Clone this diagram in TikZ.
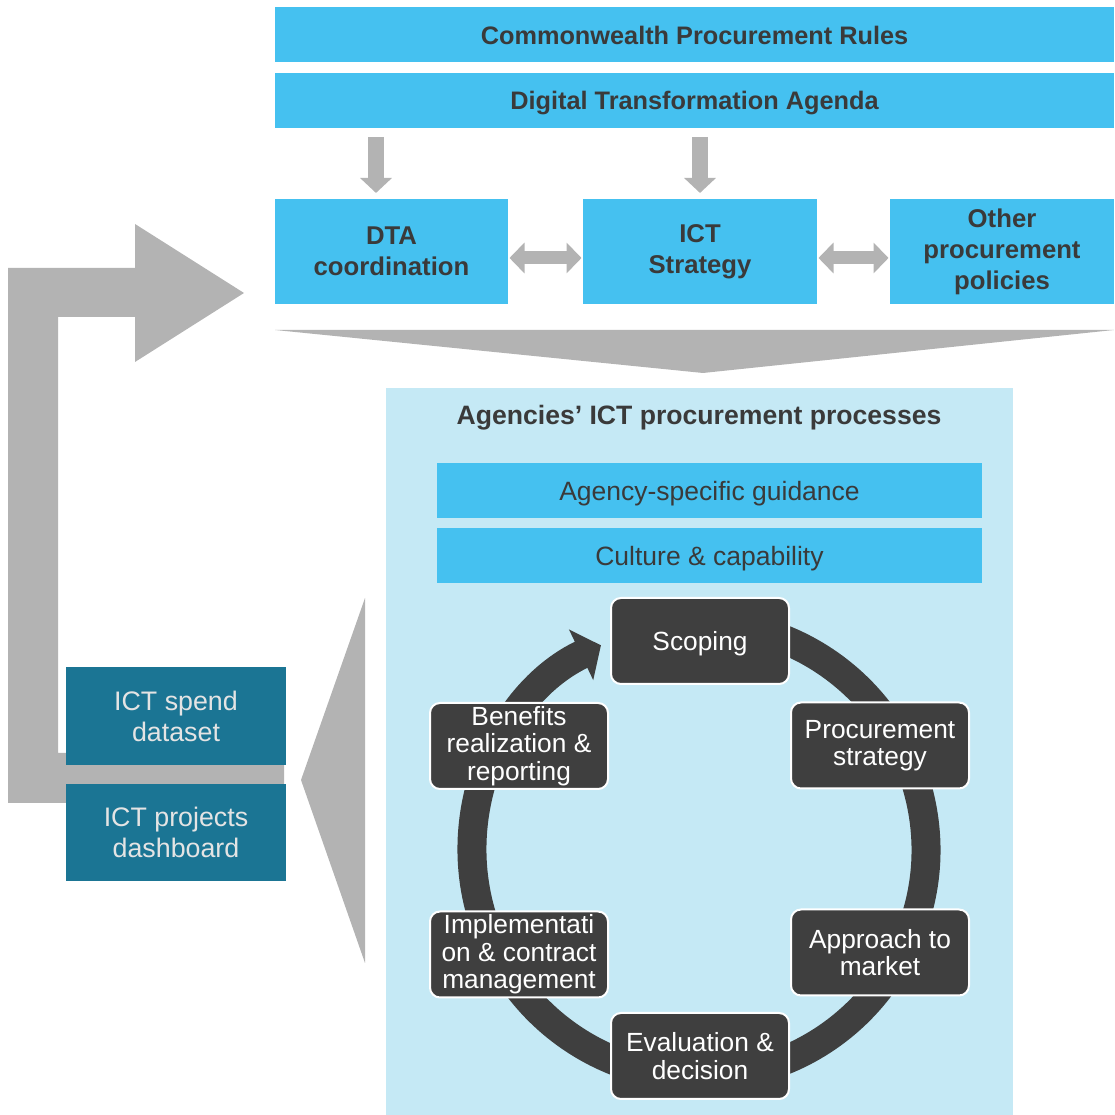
\documentclass[tikz,border=0pt]{standalone}
\usepackage{fontspec}
\setmainfont{Liberation Sans}
\usetikzlibrary{arrows.meta}
\definecolor{barblue}{HTML}{45C1F0}
\definecolor{panelblue}{HTML}{C5E9F5}
\definecolor{arrowgray}{HTML}{B3B3B3}
\definecolor{stagegray}{HTML}{3F3F3F}
\definecolor{datateal}{HTML}{1B7594}
\definecolor{textgray}{HTML}{3A3A3A}
\definecolor{textlight}{HTML}{E4E4E4}

\begin{document}
\begin{tikzpicture}[x=1pt,y=1pt,inner sep=0pt,outer sep=0pt,
        bar/.style={fill=barblue,minimum width=839pt,minimum height=55pt,text depth=0pt,text=textgray,font=\fontsize{25.3}{30}\selectfont\bfseries},
        policy/.style={fill=barblue,minimum height=105pt,text=textgray,align=center,font=\fontsize{25.7}{31}\selectfont\bfseries},
        guide/.style={fill=barblue,minimum width=545pt,minimum height=55pt,text depth=0pt,text=textgray,font=\fontsize{26.5}{30}\selectfont},
        stage/.style={draw=white,line width=2pt,fill=stagegray,rounded corners=10pt,minimum width=178pt,minimum height=86pt,text=white,align=center,font=\fontsize{26.3}{27.5}\selectfont},
        data/.style={fill=datateal,minimum width=220pt,minimum height=97.5pt,text=textlight,align=center,font=\fontsize{26.8}{31}\selectfont},
        fat/.style={draw=arrowgray,line width=16pt,-{Triangle[width=31pt,length=15pt]},shorten <=9pt,shorten >=6pt},
        link/.style={draw=arrowgray,line width=13pt,{Triangle[width=30pt,length=15pt]}-{Triangle[width=30pt,length=15pt]},shorten <=1.5pt,shorten >=1.5pt}]

        \useasboundingbox (0,0) rectangle (1114,1115);

        \node at (694.5,1080) [bar] (cpr) {Commonwealth Procurement Rules};
        \node at (694.5,1014.5) [bar] (dta) {Digital Transformation Agenda};

        \node at (391.5,863.5) [policy,minimum width=233pt] (coord) {DTA\\coordination};
        \node at (700,863.5) [policy,minimum width=234pt] (ict) {ICT\\Strategy};
        \node at (1002,863.5) [policy,minimum width=224pt] (other) {Other\\procurement\\policies};

        \draw[fat] ([xshift=-15.5pt]coord.north |- dta.south) -- ([xshift=-15.5pt]coord.north);
        \draw[fat] (ict.north |- dta.south) -- (ict.north);
        \draw[link] ([yshift=-6.5pt]coord.east) -- ([yshift=-6.5pt]ict.west);
        \draw[link] ([yshift=-6.5pt]ict.east) -- ([yshift=-6.5pt]other.west);

        \fill[arrowgray] (275,785) -- (1114,785) -- (703,742) -- cycle;

        \node at (699.5,363.5) [fill=panelblue,minimum width=627pt,minimum height=727pt] (panel) {};
        \node at (699,700) [text depth=0pt,text=textgray,font=\fontsize{26.6}{30}\selectfont\bfseries] (title) {Agencies’ ICT procurement processes};
        \node at (709.5,624) [guide] (agency) {Agency-specific guidance};
        \node at (709.5,559.5) [guide] (culture) {Culture \& capability};

        \coordinate (hub) at (699,265);
        \draw[stagegray,line width=29pt,-{Triangle[width=55pt,length=22pt]}] (hub) ++(100:227) arc[start angle=100,end angle=-244.4,radius=227];

        \node at (700,474) [stage,text depth=0pt] (scope) {Scoping};
        \node at (880,369.5) [stage] (strat) {Procurement\\strategy};
        \node at (880,162.5) [stage] (market) {Approach to\\market};
        \node at (700,59) [stage] (eval) {Evaluation \&\\decision};
        \node at (519,160.5) [stage] (impl) {Implementati\\on \& contract\\management};
        \node at (519,369) [stage] (benef) {Benefits\\realization \&\\reporting};

        \fill[arrowgray] (365,517) -- (365,152) -- (301,335) -- cycle;
        \fill[arrowgray] (8,312) -- (8,847) -- (135,847) -- (135,891) -- (244,822) -- (135,753)
            -- (135,798) -- (58,798) -- (58,362) -- (284,362) -- (284,312) -- cycle;

        \node at (176,399) [data] (spend) {ICT spend\\dataset};
        \node at (176,282.5) [data] (dash) {ICT projects\\dashboard};

      \end{tikzpicture}
\end{document}
